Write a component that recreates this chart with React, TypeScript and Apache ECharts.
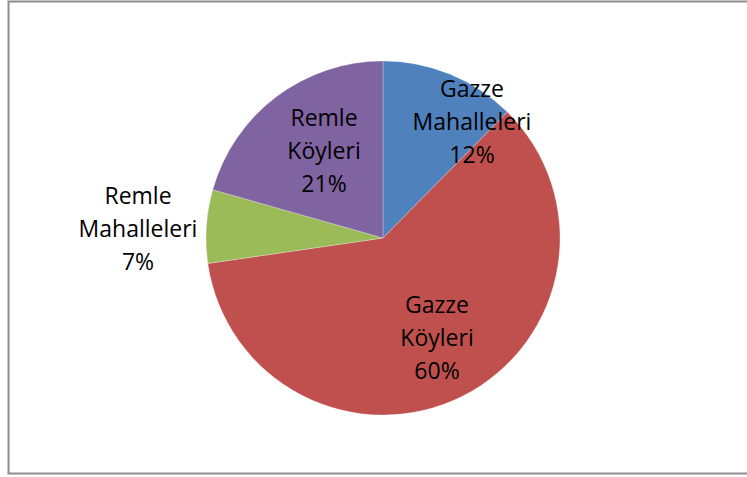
import React, { useEffect, useRef } from "react";
import * as echarts from "echarts";

const categories = ["Gazze Mahalleleri", "Gazze Köyleri", "Remle Mahalleleri", "Remle Köyleri"];
const values = [12.4, 60.3, 6.7, 20.6];
const colors = ["#4F81BD", "#C0504D", "#9BBB59", "#8064A2"];

// label centre offsets from the pie centre (pixels)
const labelOffsets: [number, number][] = [
  [89, -117],
  [54, 99],
  [-245, -10],
  [-59, -88],
];

export default function App() {
  const ref = useRef<HTMLDivElement>(null);
  useEffect(() => {
    if (!ref.current) return;
    const chart = echarts.init(ref.current, null, { renderer: "svg" });
    const cx = 383;
    const cy = 238;
    chart.setOption({
      animation: false,
      backgroundColor: "#ffffff",
      graphic: [
        {
          type: "rect",
          shape: { x: 8.5, y: 1.5, width: 760, height: 472 },
          style: { fill: "none", stroke: "#8c8c8c", lineWidth: 2 },
          silent: true,
        },
      ],
      series: [
        {
          type: "pie",
          center: [cx, cy],
          radius: 177,
          startAngle: 90,
          clockwise: true,
          data: categories.map((c, i) => ({
            name: c,
            value: values[i],
            itemStyle: { color: colors[i] },
          })),
          itemStyle: { borderColor: "rgba(255,255,255,0.5)", borderWidth: 0.5 },
          label: {
            show: true,
            position: "inside",
            formatter: (p: any) => p.name.replace(" ", "\n") + "\n" + p.percent.toFixed(0) + "%",
            fontFamily: "Open Sans",
            fontSize: 23,
            lineHeight: 33,
            color: "#000",
            align: "center",
          },
          labelLine: { show: false },
          labelLayout: (params: any) => {
            const o = labelOffsets[params.dataIndex];
            return { x: cx + o[0], y: cy + o[1], align: "center", verticalAlign: "middle" };
          },
          emphasis: { disabled: true },
        },
      ],
    });
    return () => chart.dispose();
  }, []);
  return (
    <div
      ref={ref}
      style={{ position: "fixed", left: 0, top: 0, width: 747, height: 477 }}
    />
  );
}
